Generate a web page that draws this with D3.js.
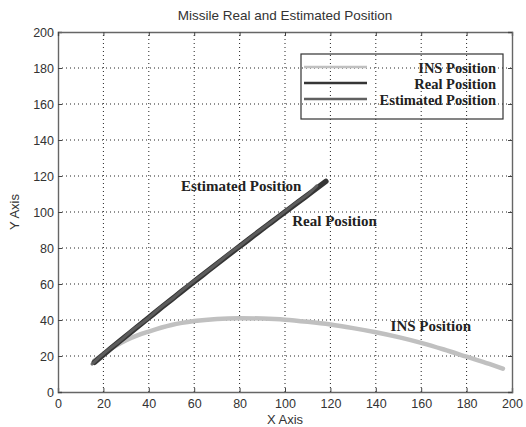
<!DOCTYPE html>
<html>
<head>
<meta charset="utf-8">
<script src="https://cdn.jsdelivr.net/npm/d3@7"></script>
<style>
  html, body { margin: 0; padding: 0; background: #fff; }
  svg { display: block; }
  .tick text { font-family: "Liberation Sans", Arial, sans-serif; font-size: 12.5px; fill: #333; }
</style>
</head>
<body>
<svg id="chart" width="526" height="427"></svg>
<script>
// Trajectories (X, Y) of the missile
const insX  = [16, 20, 25, 30, 35, 40, 50, 60, 70, 80, 90, 100, 110, 120, 130, 140, 150, 160, 170, 180, 190, 196];
const insY  = [17.5, 21, 25.3, 28.8, 31.5, 33.6, 37.2, 39.4, 40.6, 41, 40.8, 40.2, 39, 37.5, 35.5, 33.2, 30.5, 27.3, 23.6, 19.6, 15.6, 13];

const realX = [16, 22, 28, 34, 40, 46, 52, 58, 64, 70, 76, 82, 88, 94, 100, 106, 112, 118];
const realY = [16.5, 22.9, 29.1, 35.2, 41.3, 47.4, 53.4, 59.4, 65.3, 71.2, 77, 82.8, 88.6, 94.3, 100, 105.7, 111.3, 117];

const estX  = [15, 21, 27, 33, 39, 45, 51, 57, 63, 69, 75, 81, 87, 93, 99, 105, 111, 114];
const estY  = [15.5, 22.3, 28.2, 34.6, 40.3, 46.8, 52.5, 58.9, 64.6, 70.4, 76.5, 82.1, 88, 93.6, 99.4, 105.2, 110.8, 114.5];

const xTicks = [0, 20, 40, 60, 80, 100, 120, 140, 160, 180, 200];
const yTicks = [0, 20, 40, 60, 80, 100, 120, 140, 160, 180, 200];

const seriesNames  = ["INS Position", "Real Position", "Estimated Position"];
const seriesColors = ["#c0c0c0", "#353535", "#606060"];

const svg = d3.select("#chart");
const margin = { left: 58, right: 14, top: 32, bottom: 35 };
const W = 526, H = 427;
const x = d3.scaleLinear().domain([0, 200]).range([margin.left, W - margin.right]);
const y = d3.scaleLinear().domain([0, 200]).range([H - margin.bottom, margin.top]);

// dotted grid
const grid = svg.append("g");
grid.selectAll("line.gx").data(xTicks.slice(1, -1)).join("line")
  .attr("x1", d => x(d)).attr("x2", d => x(d))
  .attr("y1", y(0)).attr("y2", y(200))
  .attr("stroke", "#222").attr("stroke-width", 1).attr("stroke-dasharray", "1,3");
grid.selectAll("line.gy").data(yTicks.slice(1, -1)).join("line")
  .attr("y1", d => y(d)).attr("y2", d => y(d))
  .attr("x1", x(0)).attr("x2", x(200))
  .attr("stroke", "#222").attr("stroke-width", 1).attr("stroke-dasharray", "1,3");

// axes with inward ticks on all four sides
const axB = svg.append("g").attr("transform", `translate(0,${y(0)})`)
  .call(d3.axisBottom(x).tickValues(xTicks).tickSize(-4).tickPadding(7));
const axL = svg.append("g").attr("transform", `translate(${x(0)},0)`)
  .call(d3.axisLeft(y).tickValues(yTicks).tickSize(-4).tickPadding(4));
const axT = svg.append("g").attr("transform", `translate(0,${y(200)})`)
  .call(d3.axisTop(x).tickValues(xTicks).tickSize(-4).tickFormat(""));
const axR = svg.append("g").attr("transform", `translate(${x(200)},0)`)
  .call(d3.axisRight(y).tickValues(yTicks).tickSize(-4).tickFormat(""));
[axB, axL, axT, axR].forEach(a => {
  a.select(".domain").attr("stroke", "#666").attr("stroke-width", 1.4);
  a.selectAll(".tick line").attr("stroke", "#444");
});

const line = d3.line().x(d => x(d[0])).y(d => y(d[1])).curve(d3.curveMonotoneX);
const zip = (xs, ys) => xs.map((v, i) => [v, ys[i]]);

svg.append("path").datum(zip(insX, insY)).attr("d", line)
  .attr("fill", "none").attr("stroke", seriesColors[0]).attr("stroke-width", 4.5)
  .attr("stroke-linecap", "round");
svg.append("path").datum(zip(realX, realY)).attr("d", line)
  .attr("fill", "none").attr("stroke", seriesColors[1]).attr("stroke-width", 5.5)
  .attr("stroke-linecap", "round");
svg.append("path").datum(zip(estX, estY)).attr("d", line)
  .attr("fill", "none").attr("stroke", seriesColors[2]).attr("stroke-width", 3)
  .attr("stroke-linecap", "round").attr("opacity", 0.9);

// in-plot annotations
const serif = "'Liberation Serif', 'Times New Roman', serif";
const notes = [
  { text: "Estimated Position", ax: 54.2, ay: 111.5 },
  { text: "Real Position", ax: 103.2, ay: 92.5 },
  { text: "INS Position", ax: 146.5, ay: 34 }
];
svg.selectAll("text.note").data(notes).join("text")
  .attr("x", d => x(d.ax)).attr("y", d => y(d.ay))
  .attr("font-family", serif).attr("font-weight", "bold").attr("font-size", 15)
  .attr("fill", "#222").text(d => d.text);

// legend
const lg = svg.append("g");
lg.append("rect").attr("x", 301).attr("y", 54).attr("width", 202).attr("height", 65)
  .attr("fill", "none").attr("stroke", "#333").attr("stroke-width", 1.2);
seriesNames.forEach((name, i) => {
  const yy = 67 + i * 16;
  lg.append("line").attr("x1", 304).attr("x2", 367).attr("y1", yy).attr("y2", yy)
    .attr("stroke", seriesColors[i]).attr("stroke-width", 2.5);
  lg.append("text").attr("x", 496).attr("y", yy + 5.5).attr("text-anchor", "end")
    .attr("font-family", serif).attr("font-weight", "bold").attr("font-size", 14.5)
    .attr("fill", "#222").text(name);
});

// titles
const sans = "'Liberation Sans', Arial, sans-serif";
svg.append("text").attr("x", (x(0) + x(200)) / 2).attr("y", 20).attr("text-anchor", "middle")
  .attr("font-family", sans).attr("font-size", 13.5).attr("fill", "#333")
  .text("Missile Real and Estimated Position");
svg.append("text").attr("x", (x(0) + x(200)) / 2).attr("y", 424).attr("text-anchor", "middle")
  .attr("font-family", sans).attr("font-size", 13).attr("fill", "#333").text("X Axis");
svg.append("text").attr("transform", `translate(19,${(y(0) + y(200)) / 2}) rotate(-90)`)
  .attr("text-anchor", "middle")
  .attr("font-family", sans).attr("font-size", 13).attr("fill", "#333").text("Y Axis");
</script>
</body>
</html>
